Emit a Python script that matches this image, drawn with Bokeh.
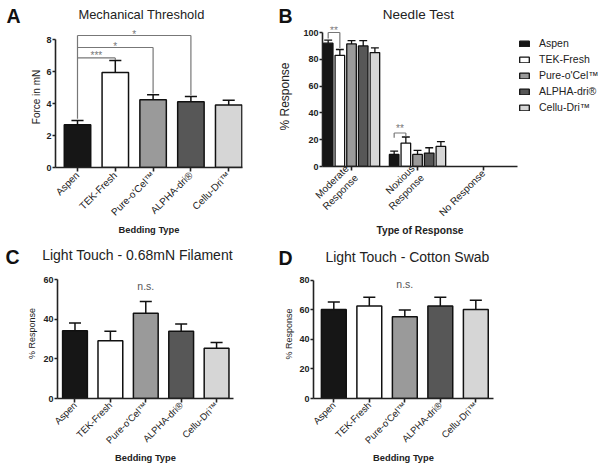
import math
from bokeh.plotting import figure
from bokeh.models import Range1d, FixedTicker, Legend, LegendItem
from bokeh.layouts import column, row
from bokeh.embed import file_html
from bokeh.resources import INLINE
from bokeh.core.properties import value

FONT = "Liberation Sans"
INK = "#222222"
BR = "#777777"

# ---------------- data ----------------
beddings = ["Aspen", "TEK-Fresh", "Pure-o'Cel™", "ALPHA-dri®", "Cellu-Dri™"]
bed_colors = ["#161616", "#ffffff", "#9a9a9a", "#575757", "#d6d6d6"]

mech_mean = [2.67, 5.93, 4.24, 4.11, 3.90]
mech_err = [0.27, 0.75, 0.30, 0.32, 0.30]
mech_ticks = [0, 2, 4, 6, 8]

resp_types = ["Moderate\nResponse", "Noxious\nResponse", "No Response"]
needle_aspen = [92.0, 9.0, 0.0]
needle_tek = [83.0, 17.5, 0.0]
needle_pure = [91.5, 9.0, 0.0]
needle_alpha = [90.0, 10.0, 0.0]
needle_cellu = [85.0, 15.0, 0.0]
needle_aspen_err = [2.3, 2.5, 0.0]
needle_tek_err = [4.3, 4.5, 0.0]
needle_pure_err = [2.5, 3.0, 0.0]
needle_alpha_err = [4.0, 4.0, 0.0]
needle_cellu_err = [3.5, 3.5, 0.0]
needle_ticks = [0, 20, 40, 60, 80, 100]

filament_mean = [34.2, 29.2, 43.0, 33.9, 25.3]
filament_err = [3.9, 4.7, 5.9, 3.7, 3.0]
filament_ticks = [0, 20, 40, 60]

swab_mean = [60.1, 62.6, 55.2, 62.6, 60.1]
swab_err = [5.2, 5.9, 4.7, 5.9, 6.3]
swab_ticks = [0, 20, 40, 60, 80]

needle_means = [needle_aspen, needle_tek, needle_pure, needle_alpha, needle_cellu]
needle_errs = [needle_aspen_err, needle_tek_err, needle_pure_err, needle_alpha_err, needle_cellu_err]


def header(w, h, letter, letter_x, letter_y, title, title_x, title_y, title_size):
    p = figure(width=w, height=h, output_backend="svg", toolbar_location=None,
               x_range=Range1d(0, w), y_range=Range1d(h, 0), title=None,
               x_axis_location=None, y_axis_location=None, min_border=0)
    p.frame_align = False
    p.outline_line_color = None
    p.grid.visible = False
    p.text(x=[letter_x], y=[letter_y], text=[letter], text_font=value(FONT),
           text_font_size="19.5px", text_font_style="bold", text_align="left",
           text_baseline="middle", text_color="#111111")
    p.text(x=[title_x], y=[title_y], text=[title], text_font=value(FONT),
           text_font_size=title_size, text_align="center",
           text_baseline="middle", text_color=INK)
    return p


def main_fig(left, right, bottom, fw, fh, xr, yr, yticks, ylabel, ylabel_size, ylabel_standoff):
    p = figure(frame_width=fw, frame_height=fh, output_backend="svg", toolbar_location=None,
               x_range=Range1d(*xr), y_range=Range1d(*yr), title=None,
               min_border_left=left, min_border_right=right,
               min_border_top=0, min_border_bottom=bottom)
    p.frame_align = False
    p.outline_line_color = None
    p.grid.visible = False
    for ax in (p.xaxis[0], p.yaxis[0]):
        ax.axis_line_width = 1.6
        ax.axis_line_color = INK
        ax.major_tick_line_width = 1.6
        ax.major_tick_line_color = INK
        ax.major_tick_in = 0
        ax.minor_tick_line_color = None
        ax.major_label_text_font = FONT
        ax.major_label_text_color = INK
        ax.axis_label_text_font = FONT
        ax.axis_label_text_color = INK
    ya = p.yaxis[0]
    ya.major_tick_out = 3
    ya.major_label_standoff = 1
    ya.major_label_text_font_style = "bold"
    ya.major_label_text_font_size = "9px"
    ya.ticker = FixedTicker(ticks=yticks)
    ya.bounds = (0, yticks[-1])
    ya.axis_label = ylabel
    ya.axis_label_text_font_size = ylabel_size
    ya.axis_label_text_font_style = "normal"
    ya.axis_label_standoff = ylabel_standoff
    xa = p.xaxis[0]
    xa.major_tick_out = 4
    xa.major_label_standoff = 2
    xa.major_label_orientation = math.pi / 4
    xa.axis_label_text_font_style = "bold"
    xa.axis_label_standoff = 0
    return p


def bars(p, means, errs, half_cap, size, standoff):
    xs = list(range(len(means)))
    p.vbar(x=xs, top=means, width=0.7, bottom=0, fill_color=bed_colors,
           line_color="#111111", line_width=1.5)
    tops = [m + e for m, e in zip(means, errs)]
    p.segment(x0=xs, y0=means, x1=xs, y1=tops, line_color="#111111", line_width=1.5)
    p.segment(x0=[x - half_cap for x in xs], y0=tops, x1=[x + half_cap for x in xs],
              y1=tops, line_color="#111111", line_width=1.5)
    xa = p.xaxis[0]
    xa.ticker = FixedTicker(ticks=xs)
    xa.major_label_overrides = {i: b for i, b in enumerate(beddings)}
    xa.major_label_text_font_size = size
    xa.major_label_standoff = standoff
    xa.axis_label = "Bedding Type"
    xa.axis_label_text_font_size = "9.3px"


# ---------------- Panel A ----------------
hA = header(270, 26, "A", 6, 15, "Mechanical Threshold", 141, 14, "12.9px")
pA = main_fig(55, 28, 71, 187, 141, (-0.582, 4.365), (0, 8.8125), mech_ticks,
              "Force in mN", "10px", 1)
bars(pA, mech_mean, mech_err, 0.16, "10px", 2)
lvl = [6.85, 7.5, 8.25]
ends = [1, 2, 3]
ends_low = [6.72, 4.62, 4.52]
pA.segment(x0=[0, 0, 0], y0=lvl, x1=ends, y1=lvl, line_color=BR, line_width=1.2)
pA.segment(x0=ends, y0=lvl, x1=ends, y1=ends_low, line_color=BR, line_width=1.2)
pA.segment(x0=[0], y0=[8.25], x1=[0], y1=[mech_mean[0] + mech_err[0] + 0.1],
           line_color=BR, line_width=1.2)
pA.text(x=[0.5, 1.0, 1.5], y=[6.98, 7.59, 8.31], text=["***", "*", "*"],
        text_font=value(FONT), text_font_size="10px", text_align="center",
        text_baseline="middle", text_color=BR)

# ---------------- Panel B ----------------
hB = header(334, 26, "B", 8, 15, "Needle Test", 148, 14, "13.5px")
pB = main_fig(52, 87, 72, 195, 140, (-0.44, 2.515), (0, 104.48), needle_ticks,
              "% Response", "12px", 8)
step = 0.177
bw = 0.145
items = []
for i in range(len(beddings)):
    xs = [g + (i - 2) * step for g in range(2)]
    means = needle_means[i][:2]
    errs = needle_errs[i][:2]
    r = pB.vbar(x=xs, top=means, width=bw, bottom=0, fill_color=bed_colors[i],
                line_color="#111111", line_width=1.3)
    tops = [m + e for m, e in zip(means, errs)]
    pB.segment(x0=xs, y0=means, x1=xs, y1=tops, line_color="#111111", line_width=1.3)
    pB.segment(x0=[x - 0.06 for x in xs], y0=tops, x1=[x + 0.06 for x in xs], y1=tops,
               line_color="#111111", line_width=1.3)
    items.append(LegendItem(label=beddings[i], renderers=[r]))
xb = pB.xaxis[0]
xb.ticker = FixedTicker(ticks=[0, 1, 2])
xb.major_label_overrides = {i: t for i, t in enumerate(resp_types)}
xb.major_label_text_font_size = "10px"
xb.major_label_standoff = 1
xb.axis_label = "Type of Response"
xb.axis_label_text_font_size = "10.2px"
xa1, xt1 = -2 * step, -1 * step
xa2, xt2 = 1 - 2 * step, 1 - 1 * step
pB.segment(x0=[xa1, xa2], y0=[100, 25], x1=[xt1, xt2], y1=[100, 25], line_color=BR, line_width=1.2)
pB.segment(x0=[xa1, xt1, xa2, xt2], y0=[100, 100, 25, 25], x1=[xa1, xt1, xa2, xt2],
           y1=[95.5, 88.5, 21.5, 22.5], line_color=BR, line_width=1.2)
pB.text(x=[(xa1 + xt1) / 2, (xa2 + xt2) / 2], y=[101.3, 28.1], text=["**", "**"],
        text_font=value(FONT), text_font_size="10px", text_align="center",
        text_baseline="middle", text_color=BR)
legend = Legend(items=items, location=(1, 51), label_text_font=FONT,
                label_text_font_size="10.5px", label_text_color=INK,
                glyph_width=12, glyph_height=7, label_height=16, spacing=0,
                label_standoff=9, padding=0, margin=0, border_line_color=None,
                background_fill_alpha=0)
pB.add_layout(legend, "right")

# ---------------- Panel C ----------------
hC = header(270, 30, "C", 5, 18.5, "Light Touch - 0.68mN Filament", 137, 16, "14px")
pC = main_fig(57, 37, 64, 176, 130, (-0.494, 4.478), (0, 65.6), filament_ticks,
              "% Response", "9px", 3)
bars(pC, filament_mean, filament_err, 0.17, "9.5px", 1)
pC.text(x=[2], y=[57], text=["n.s."], text_font=value(FONT), text_font_size="10.5px",
        text_align="center", text_baseline="middle", text_color="#555555")

# ---------------- Panel D ----------------
hD = header(334, 30, "D", 8, 18.5, "Light Touch - Cotton Swab", 137, 17, "14px")
pD = main_fig(43, 111, 64, 180, 129, (-0.572, 4.498), (0, 87.2), swab_ticks,
              "% Response", "9px", 2)
bars(pD, swab_mean, swab_err, 0.17, "9.5px", 1)
pD.text(x=[2], y=[77.6], text=["n.s."], text_font=value(FONT), text_font_size="10.5px",
        text_align="center", text_baseline="middle", text_color="#555555")

layout = row(column(hA, pA, hC, pC), column(hB, pB, hD, pD))
open("out.html", "w").write(file_html(layout, INLINE))
